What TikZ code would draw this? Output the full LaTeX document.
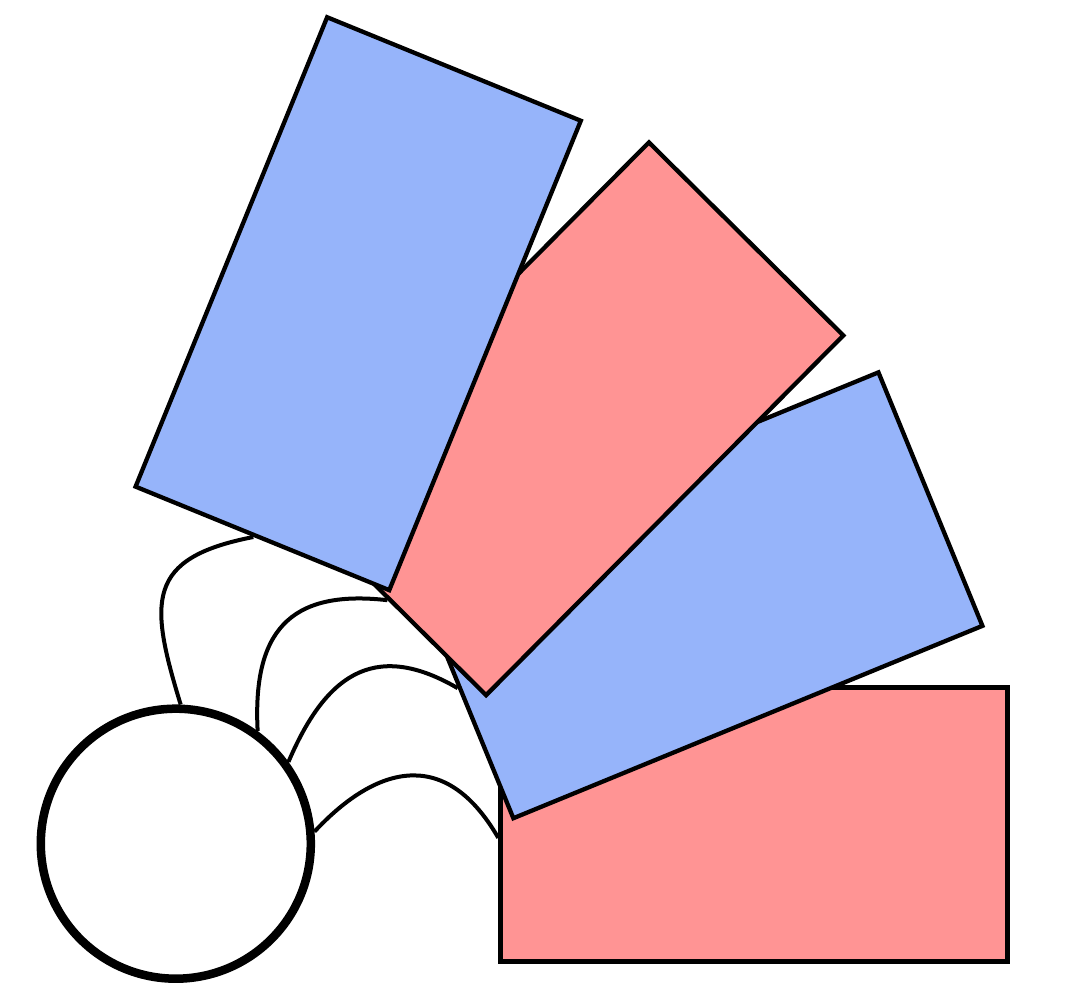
\documentclass[tikz,border=0pt]{standalone}
\definecolor{fanred}{RGB}{255,148,148}
\definecolor{fanblue}{RGB}{150,180,250}
\tikzset{
  hub/.style={circle,draw,line width=8.5pt,minimum size=270pt,inner sep=0pt,fill=white},
  blade/.style={rectangle,draw,line width=4.3pt,minimum width=507pt,minimum height=274pt,inner sep=0pt},
  link/.style={line width=4pt}
}
\begin{document}
\begin{tikzpicture}[x=1pt,y=1pt]
\useasboundingbox (0,0) rectangle (1070,991);
\node[hub] (hub) at (175.8,147.3) {};
\node[blade,fill=fanred] (b0) at (753.9,166.6) {};
\node[blade,fill=fanblue,rotate=22.3] (b1) at (695.9,395.7) {};
\node[blade,fill=fanred,rotate=45.2] (b2) at (567.5,572.2) {};
\node[blade,fill=fanblue,rotate=67.8] (b3) at (358.2,687.3) {};
\draw[link] (hub.88.3) to[out=107,in=191,out distance=108pt,in distance=110pt] (b3.178);
\draw[link] (hub.54.6) to[out=93,in=173.5,out distance=98pt,in distance=100pt] (b2.west);
\draw[link] (hub.36.9) to[out=66.8,in=149.7,out distance=90pt,in distance=100pt] (b1.179);
\draw[link] (hub.5.6) to[out=47,in=120,out distance=85pt,in distance=110pt] (b0.183.5);
\end{tikzpicture}
\end{document}
